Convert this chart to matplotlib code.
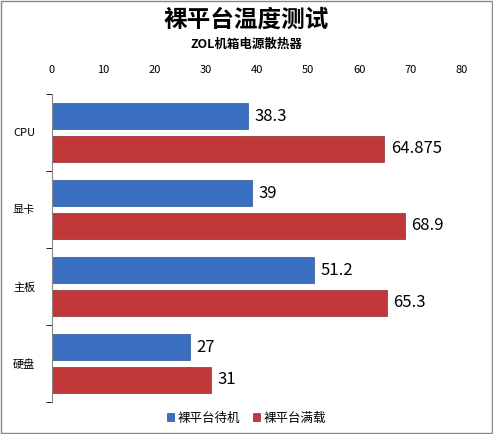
import matplotlib
matplotlib.use("Agg")
import matplotlib.pyplot as plt
import numpy as np

plt.rcParams['font.family'] = ['Noto Sans CJK SC', 'DejaVu Sans']

categories = ["CPU", "显卡", "主板", "硬盘"]
standby = [38.3, 39, 51.2, 27]
fullload = [64.875, 68.9, 65.3, 31]
series_names = ["裸平台待机", "裸平台满载"]
xticks = [0, 10, 20, 30, 40, 50, 60, 70, 80]

fig = plt.figure(figsize=(4.93, 4.34), dpi=100)
fig.patches.append(plt.Rectangle((0.002, 0.002), 0.996, 0.996, transform=fig.transFigure,
                                 fill=False, edgecolor='#888888', lw=1))
ax = fig.add_axes([52/493, 1-402/434, 410/493, 308/434])

y = np.arange(len(categories))
h = 0.34
off = 0.21
b1 = ax.barh(y - off, standby, height=h, color='#3a6fc1', edgecolor='#2a558f', lw=0.5, label=series_names[0])
b2 = ax.barh(y + off, fullload, height=h, color='#c0383a', edgecolor='#8f2a2a', lw=0.5, label=series_names[1])
for bars, vals in ((b1, standby), (b2, fullload)):
    for r, v in zip(bars, vals):
        ax.text(v + 1.2, r.get_y() + r.get_height()/2, f"{v:g}", va='center', ha='left', fontsize=12)

ax.set_xlim(0, 80)
ax.set_ylim(3.5, -0.5)
ax.set_xticks(xticks)
ax.xaxis.tick_top()
ax.tick_params(axis='x', labelsize=8, length=0, pad=14)
ax.set_yticks(y)
ax.set_yticklabels(categories, fontsize=8)
ax.set_yticks([-0.5, 0.5, 1.5, 2.5, 3.5], minor=True)
ax.tick_params(axis='y', which='major', length=0, pad=12)
ax.tick_params(axis='y', which='minor', length=4)
for s in ['right', 'bottom', 'top']:
    ax.spines[s].set_visible(False)
ax.spines['left'].set_color('#888888')

fig.text(0.5, 1-20/434, "裸平台温度测试", ha='center', va='center', fontsize=17, fontweight='bold')
fig.text(0.5, 1-44/434, "ZOL机箱电源散热器", ha='center', va='center', fontsize=9, fontweight='bold')
fig.legend(handles=[b1, b2], labels=series_names, loc='center', bbox_to_anchor=(0.5, 1-418/434),
           ncol=2, frameon=False, fontsize=9, handlelength=0.6, handleheight=0.6, columnspacing=1.0, handletextpad=0.3)

fig.savefig("out.png", dpi=100)
